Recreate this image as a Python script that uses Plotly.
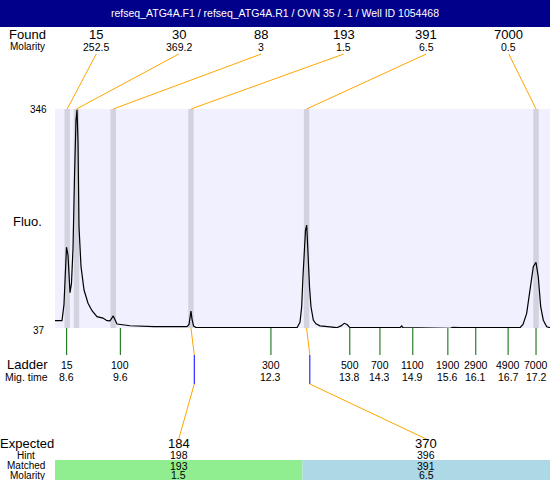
import plotly.graph_objects as go

W, H = 550, 480
title_text = "refseq_ATG4A.F1 / refseq_ATG4A.R1 / OVN 35 / -1 / Well ID 1054468"

# electropherogram (migration time in min, fluorescence)
trace_time = [8.387, 8.515, 8.551, 8.579, 8.597, 8.624, 8.643, 8.661, 8.688, 8.716,
              8.743, 8.770, 8.789, 8.807, 8.825, 8.862, 8.917, 8.990, 9.063, 9.154,
              9.263, 9.336, 9.391, 9.451, 9.519, 9.756, 10.195, 10.797, 10.834, 10.852,
              10.870, 10.888, 10.916, 10.961, 12.806, 12.860, 12.891, 12.915, 12.939, 12.961,
              12.983, 12.997, 13.012, 13.034, 13.061, 13.103, 13.152, 13.225, 13.408, 13.530,
              13.609, 13.669, 13.718, 13.773, 14.686, 14.717, 14.741, 15.563, 15.599, 15.654,
              15.690, 15.782, 16.877, 16.932, 16.999, 17.060, 17.120, 17.169, 17.211, 17.255,
              17.303, 17.365, 17.425]
trace_fluo = [47.3, 47.5, 70, 120, 151, 140, 100, 86.8, 100, 150,
              250, 330, 345, 300, 180, 123.5, 90.6, 72, 61.4, 53,
              51, 47.3, 47, 54, 42.6, 40.2, 38.8, 38.8, 42, 50,
              61, 50, 40, 37.6, 37.4, 45, 67, 110, 151.7, 175,
              182.3, 160, 123.5, 95, 67, 48.3, 43, 40, 38.5, 37.4,
              40, 43.6, 42, 37.6, 37.4, 39.8, 37.4, 37.4, 36.6, 37.8,
              37.6, 37.4, 37.4, 42, 57.7, 95, 123.5, 129.7, 109, 67,
              48, 38.8, 37.5]

found_size = [15, 30, 88, 193, 391, 7000]
found_molarity = ["252.5", "369.2", "3", "1.5", "6.5", "0.5"]
found_time = [8.61, 8.78, 9.45, 10.87, 12.98, 17.17]

ladder_size = [15, 100, 300, 500, 700, 1100, 1900, 2900, 4900, 7000]
ladder_time = [8.60, 9.58, 12.33, 13.77, 14.32, 14.92, 15.56, 16.07, 16.66, 17.17]

expected_size = [184, 370]
hint_size = [198, 396]
matched_size = [193, 391]
matched_molarity = ["1.5", "6.5"]
matched_peak_time = [10.87, 12.98]
matched_mark_time = [10.93, 13.04]

y_min, y_max = 37, 346
t_min, t_max = 8.387, 17.425

# layout in pixels
PL, PR, PT, PB = 55, 550, 109, 328
FONT = "Liberation Sans, Arial, sans-serif"
ORANGE = "#FFA500"
GREEN = "#006400"


def px(t):
    return PL + (t - t_min) / (t_max - t_min) * (PR - PL)


def fx(x):
    return x / W


def fy(y):
    return 1 - y / H


fig = go.Figure()
fig.add_trace(go.Scatter(x=trace_time, y=trace_fluo, mode="lines",
                         line=dict(color="black", width=1.2), hoverinfo="skip"))

shapes = []
anns = []


def text(x, y, s, size, color="black", xanchor="center"):
    anns.append(dict(x=fx(x), y=fy(y), xref="paper", yref="paper", text=s,
                     showarrow=False, xanchor=xanchor, yanchor="middle",
                     font=dict(family=FONT, size=size, color=color)))


def pline(x0, y0, x1, y1, color, width=1):
    shapes.append(dict(type="line", xref="paper", yref="paper",
                       x0=fx(x0), y0=fy(y0), x1=fx(x1), y1=fy(y1),
                       line=dict(color=color, width=width)))


# title bar
shapes.append(dict(type="rect", xref="paper", yref="paper", x0=0, x1=1,
                   y0=fy(27), y1=1, fillcolor="#00008B", line=dict(width=0)))
text(275, 13.5, title_text, 10.5, color="white")

# found peak bands
for t in found_time:
    shapes.append(dict(type="rect", xref="x", yref="y", x0=t - 0.05, x1=t + 0.05,
                       y0=y_min, y1=y_max, fillcolor="#D3D3E0",
                       line=dict(width=0), layer="below"))

# found labels + leaders
colw = (PR - PL) / len(found_size)
text(27, 34.5, "Found", 13)
text(27, 47, "Molarity", 10)
for i, (s, m, t) in enumerate(zip(found_size, found_molarity, found_time)):
    cx = PL + (i + 0.5) * colw
    text(cx, 34.5, str(s), 13)
    text(cx, 47, m, 10.5)
    pline(cx, 54, px(t), PT, ORANGE)

# y labels
text(49, 110, str(y_max), 10, xanchor="right")
text(47, 330, str(y_min), 10, xanchor="right")
text(27, 221, "Fluo.", 13)

# ladder
text(27, 364, "Ladder", 13)
text(26, 376.5, "Mig. time", 10.5)
for s, t in zip(ladder_size, ladder_time):
    shapes.append(dict(type="line", xref="x", yref="paper", x0=t, x1=t,
                       y0=fy(PB), y1=fy(355), line=dict(color=GREEN, width=1)))
    text(px(t), 364.5, str(s), 10.5)
    text(px(t), 376.5, f"{t:.1f}", 10.5)

# expected / matched
ecolw = (PR - PL) / len(expected_size)
bar_colors = ["#90EE90", "#ADD8E6"]
for i in range(len(expected_size)):
    cx = PL + (i + 0.5) * ecolw
    shapes.append(dict(type="rect", xref="paper", yref="paper",
                       x0=fx(PL + i * ecolw), x1=fx(PL + (i + 1) * ecolw),
                       y0=0, y1=fy(460), fillcolor=bar_colors[i], line=dict(width=0)))
    xp, xm = px(matched_peak_time[i]), px(matched_mark_time[i])
    pline(xp, PB, xm, 355, ORANGE)
    pline(xm, 355, xm, 384, "#0000FF")
    pline(xm, 384, cx, 439, ORANGE)
    text(cx, 443.5, str(expected_size[i]), 13)
    text(cx, 455, str(hint_size[i]), 10.5)
    text(cx, 465.5, str(matched_size[i]), 10.5)
    text(cx, 475, matched_molarity[i], 10.5)

text(27, 443.5, "Expected", 13)
text(26, 455, "Hint", 10)
text(26, 465.5, "Matched", 10)
text(27, 475, "Molarity", 10)

fig.update_layout(
    width=W, height=H, margin=dict(l=0, r=0, t=0, b=0),
    paper_bgcolor="white", plot_bgcolor="#F0F0FF",
    showlegend=False, shapes=shapes, annotations=anns,
    xaxis=dict(domain=[PL / W, PR / W], range=[t_min, t_max], visible=False, fixedrange=True),
    yaxis=dict(domain=[fy(PB), fy(PT)], range=[y_min, y_max], visible=False, fixedrange=True),
)

fig.write_html("out.html", config={"displayModeBar": False},
               post_script="document.body.style.margin='0';document.body.style.padding='0';"
                           "document.body.style.overflow='hidden';")
